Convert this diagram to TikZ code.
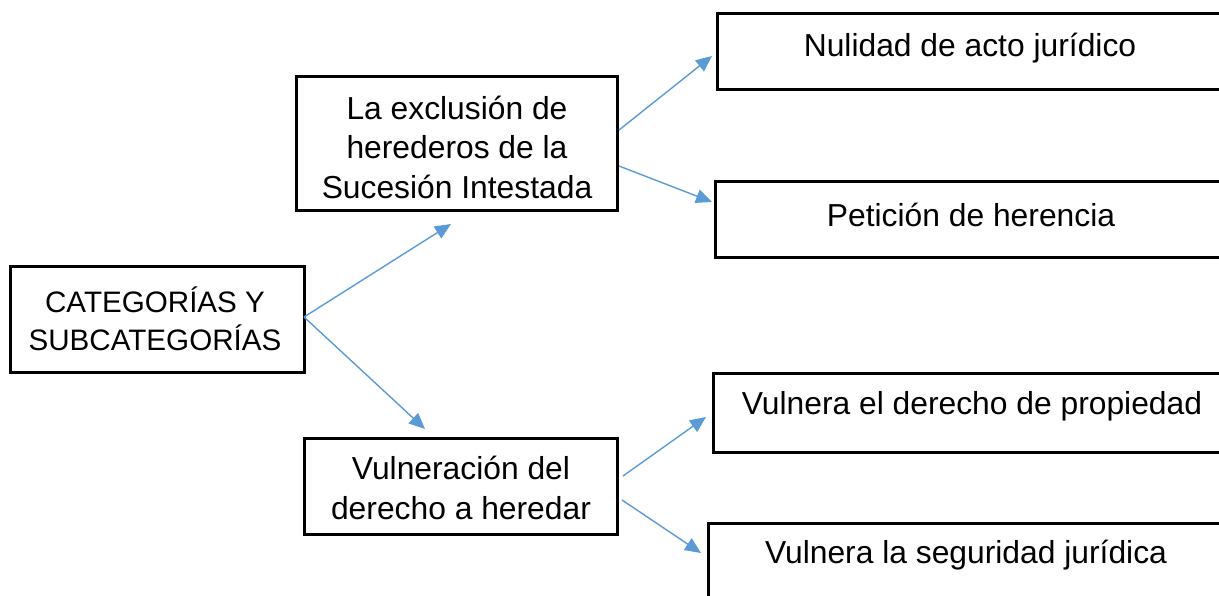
\documentclass[tikz,border=0pt]{standalone}
\usepackage{fontspec}
\setmainfont{Liberation Sans}
\usetikzlibrary{arrows.meta}
\definecolor{arrowblue}{HTML}{5B9BD5}
\begin{document}
\begin{tikzpicture}[x=1pt,y=-1pt,
  box/.style={draw=black,line width=3pt,fill=white},
  txt/.style={align=center,inner sep=0pt,font=\fontsize{31.8}{39.5}\selectfont},
  captxt/.style={align=center,inner sep=0pt,font=\fontsize{29.6}{37.5}\selectfont},
  conn/.style={draw=arrowblue,line width=1.4pt,-{Triangle[length=16pt,width=14pt]}}]
\useasboundingbox (0,0) rectangle (1219,596);
\clip (0,0) rectangle (1219,596);
% boxes
\draw[box] (10,267) rectangle (304,372);
\node[inner sep=0pt] (cat) at (157,319.5) {};
\draw[box] (296,77) rectangle (617,211);
\node[inner sep=0pt] (excl) at (456.5,144) {};
\draw[box] (304,438) rectangle (617,534);
\node[inner sep=0pt] (vuln) at (460.5,486) {};
\draw[box] (717,14) rectangle (1235,90);
\draw[box] (715,182) rectangle (1235,258);
\draw[box] (713,373) rectangle (1235,452);
\draw[box] (708,523) rectangle (1235,625);
% texts
\node[captxt] (catT) at (155,319) {CATEGORÍAS Y\\SUBCATEGORÍAS};
\node[txt] (exclT) at (457,147) {La exclusión de\\herederos de la\\Sucesión Intestada};
\node[txt] (vulnT) at (461,488) {Vulneración del\\derecho a heredar};
\node[txt] (nulT) at (970,48) {Nulidad de acto jurídico};
\node[txt] (petT) at (971,215) {Petición de herencia};
\node[txt] (propT) at (972,406) {Vulnera el derecho de propiedad};
\node[txt] (segT) at (966,555) {Vulnera la seguridad jurídica};
% connector end points
\coordinate (c1s) at (304,317);
\coordinate (c1e) at (451,224);
\coordinate (c2e) at (425,429);
\coordinate (e1s) at (619,130);
\coordinate (e1e) at (712,56);
\coordinate (e2s) at (619,166);
\coordinate (e2e) at (712,202);
\coordinate (v1s) at (623,476);
\coordinate (v1e) at (706,417);
\coordinate (v2s) at (622,500);
\coordinate (v2e) at (701,553);
\draw[conn] (c1s) -- (c1e);
\draw[conn] (c1s) -- (c2e);
\draw[conn] (e1s) -- (e1e);
\draw[conn] (e2s) -- (e2e);
\draw[conn] (v1s) -- (v1e);
\draw[conn] (v2s) -- (v2e);
\end{tikzpicture}
\end{document}
